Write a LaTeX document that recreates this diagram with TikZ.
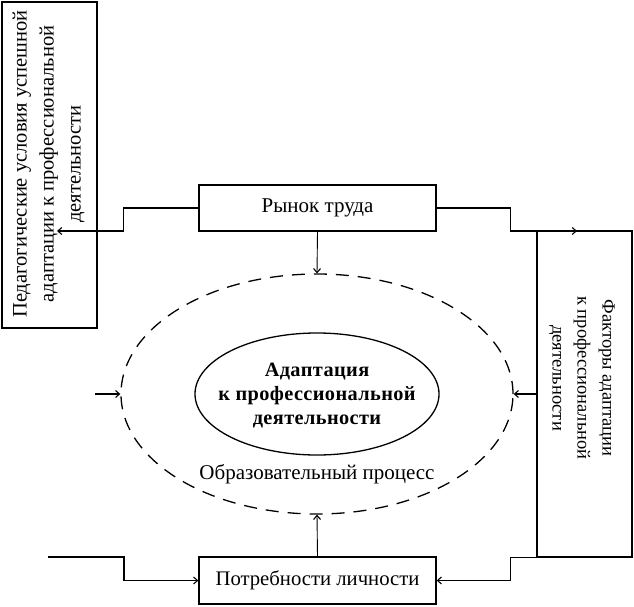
\documentclass[tikz,border=0pt]{standalone}
\usepackage{fontspec}
\setmainfont{Liberation Serif}
\usetikzlibrary{arrows.meta,shapes.geometric}
\begin{document}
\begin{tikzpicture}[x=1pt,y=-1pt,
  box/.style={draw, line width=1.3pt, rectangle, inner sep=0pt},
  conn/.style={line width=1.2pt},
  thinconn/.style={line width=0.9pt},
  tip/.style={-{Straight Barb[length=4pt,width=7pt,line width=1.1pt]}},
  txt/.style={font=\fontsize{21}{23}\selectfont, inner sep=0pt, align=center},
  dashell/.style={draw, ellipse, line width=1.3pt, dash pattern=on 13pt off 9pt, inner sep=0pt},
  solell/.style={draw, ellipse, line width=1.3pt, inner sep=0pt}]
\useasboundingbox (0,0) rectangle (634,607);
% boxes
\node[box, minimum width=95pt, minimum height=326pt] (ped) at (49.5,165) {};
\node[box, minimum width=95pt, minimum height=326pt] (fact) at (584.5,394) {};
\node[box, minimum width=237pt, minimum height=46pt, txt] (rynok) at (317.5,208) {Рынок труда};
\node[box, minimum width=237pt, minimum height=47pt, txt, font=\fontsize{20.7}{23}\selectfont] (potr) at (317.5,580.5) {Потребности личности};
% rotated texts
\node[txt, rotate=90, font=\fontsize{20.5}{27}\selectfont] (pedtxt) at (48.5,164)
  {Педагогические условия успешной\\адаптации к профессиональной\\деятельности};
\node[txt, rotate=-90, font=\fontsize{18.5}{25}\selectfont] (facttxt) at (582,378)
  {Факторы адаптации\\к профессиональной\\деятельности};
% ellipses
\node[dashell, minimum width=392pt, minimum height=240pt] (proc) at (317,394) {};
\node[solell, minimum width=244pt, minimum height=122pt] (adapt) at (317,394) {};
\node[txt, font=\fontsize{20.3}{24}\selectfont\bfseries\addfontfeatures{LetterSpace=2}] (adapttxt) at (317,396)
  {Адаптация\\к профессиональной\\деятельности};
\node[txt] (proctxt) at (317,474) {Образовательный процесс};
% free ends
\coordinate (pedin) at (57,231);
\coordinate (factin) at (577,231);
\coordinate (leftsrc) at (95,394);
\coordinate (potrsrc) at (48,557);
% connectors
\draw[conn, tip] (rynok.west) -- ++(-75,0) |- (pedin);
\draw[conn, tip] (rynok.east) -- ++(74,0) |- (factin);
\draw[thinconn, tip] (rynok.south) -- (proc.north);
\draw[thinconn, tip] (potr.north) -- (proc.south);
\draw[conn, tip] (fact.west) -- (proc.east);
\draw[conn, tip] (leftsrc) -- (proc.west);
\draw[conn, tip] (fact.south west) -- ++(-26,0) |- (potr.east);
\draw[conn, tip] (potrsrc) -- ++(76,0) |- (potr.west);
\end{tikzpicture}
\end{document}
